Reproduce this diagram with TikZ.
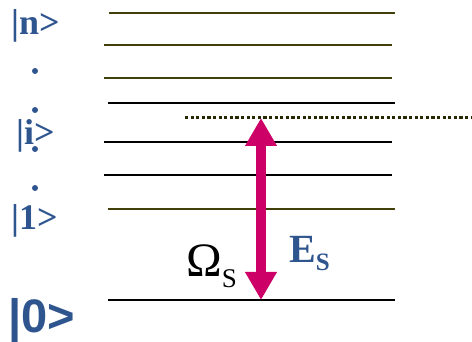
\documentclass[tikz,border=0pt]{standalone}
\usepackage{fontspec}
\setmainfont{Liberation Serif}
\newfontfamily\ketsans{Liberation Sans}
\usetikzlibrary{arrows.meta}
\definecolor{levelolive}{RGB}{64,64,8}
\definecolor{virtolive}{RGB}{40,40,0}
\definecolor{ketblue}{RGB}{47,85,143}
\definecolor{pumpmag}{RGB}{204,0,102}
\begin{document}
\begin{tikzpicture}[
        x=1pt, y=-1pt,
        level/.style={
            line width=2.4pt,
            draw=black
        },
        olivelevel/.style={
            level,
            draw=levelolive
        },
        ket/.style={
            anchor=base west,
            inner sep=0pt,
            text=ketblue,
            font=\fontsize{36}{36}\selectfont\bfseries
        },
        vdot/.style={
            circle,
            fill=ketblue,
            inner sep=0pt,
            minimum size=6pt
        },
        pump/.style={
            {Triangle[width=30pt,length=28pt]}-{Triangle[width=30pt,length=28pt]},
            line width=10pt,
            draw=pumpmag
        }
    ]

    \useasboundingbox (0,0) rectangle (472,342);

    % energy levels
    \draw[olivelevel] (109,13)  -- (395,13);
    \draw[olivelevel] (104,45)  -- (392,45);
    \draw[olivelevel] (104,78)  -- (392,78);
    \draw[level]      (108,103) -- (395,103);
    \draw[level]      (104,142) -- (392,142);
    \draw[level]      (104,175) -- (392,175);
    \draw[olivelevel] (108,209) -- (395,209);
    \draw[level]      (108,300) -- (395,300);

    % virtual level
    \coordinate (virt_start) at (185,118);
    \coordinate (virt_end)   at (472,118);
    \draw[virtolive, line width=3pt, dash pattern=on 3.2pt off 2.4pt] (virt_start) -- (virt_end);

    % kets
    \node[ket] (ket_n) at (11,35)  {|n>};
    \node[ket] (ket_i) at (16,145) {|i>};
    \node[ket] (ket_1) at (11,230) {|1>};
    \node[ket, font=\fontsize{47}{47}\selectfont\bfseries\ketsans] (ket_0) at (8,333) {|0>};

    \node[vdot] (dot_a) at (35,71)  {};
    \node[vdot] (dot_b) at (35,110) {};
    \node[vdot] (dot_c) at (35,149) {};
    \node[vdot] (dot_d) at (35,188) {};

    % transition
    \coordinate (pump_top) at (261,118);
    \coordinate (pump_bot) at (261,300);
    \draw[pump] (pump_top) -- (pump_bot);

    \node[anchor=base west, inner sep=0pt] (omega_s) at (186,277)
        {\fontsize{48}{48}\selectfont Ω\raisebox{-11pt}{\fontsize{27}{27}\selectfont S}};
    \node[anchor=base west, inner sep=0pt, text=ketblue] (e_s) at (289,263)
        {\fontsize{40}{40}\selectfont\bfseries E\raisebox{-8pt}{\fontsize{25}{25}\selectfont S}};

\end{tikzpicture}
\end{document}
